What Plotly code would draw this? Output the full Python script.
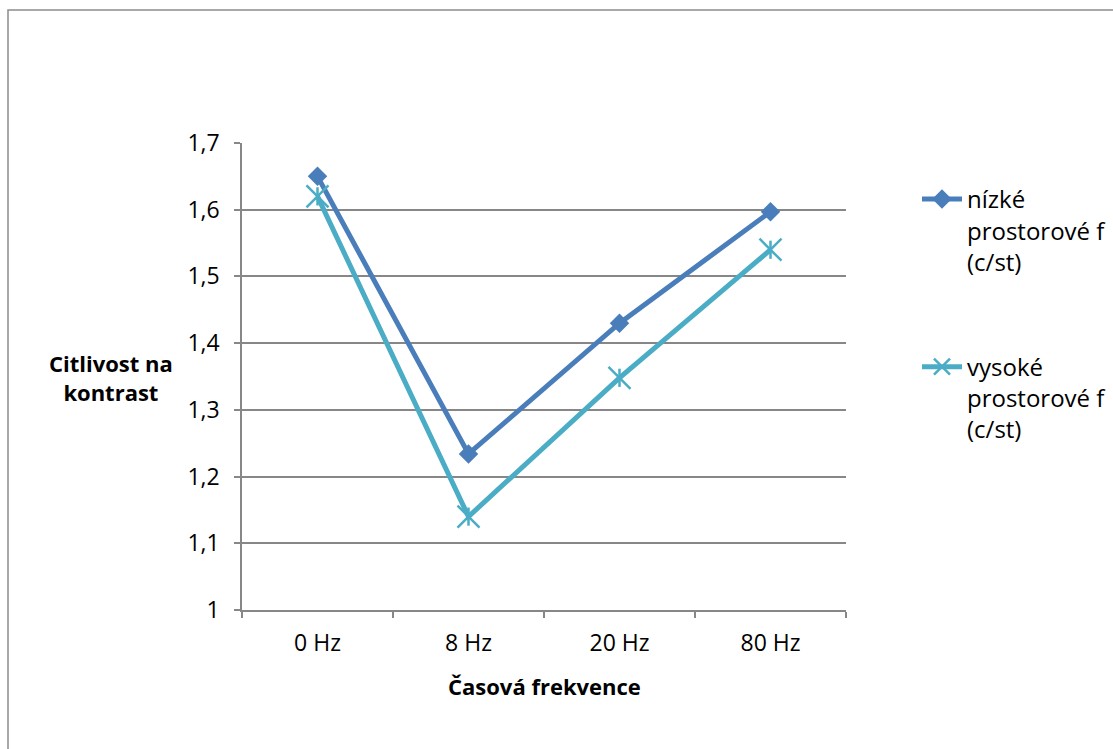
import plotly.graph_objects as go

# Data
categories = ["0 Hz", "8 Hz", "20 Hz", "80 Hz"]
nizke = [1.65, 1.234, 1.43, 1.597]
vysoke = [1.62, 1.14, 1.348, 1.54]
y_ticks = [1.0, 1.1, 1.2, 1.3, 1.4, 1.5, 1.6, 1.7]
y_ticktext = ["1", "1,1", "1,2", "1,3", "1,4", "1,5", "1,6", "1,7"]

W, H = 1113, 749
L, R, T, B = 242, 267, 143, 139
PW, PH = W - L - R, H - T - B

def px_x(px):
    return (px - L) / PW

def px_y(py):
    return (H - B - py) / PH

FONT = "Open Sans"
GRID = "#878787"
C1 = "#4a7ebb"
C2 = "#4bacc6"

fig = go.Figure()

fig.add_trace(go.Scatter(
    x=categories, y=nizke, mode="lines+markers",
    name="nízké<br>prostorové f<br>(c/st)",
    line=dict(color=C1, width=5),
    marker=dict(symbol="diamond", size=15, color=C1),
    legendgroup="a",
))
fig.add_trace(go.Scatter(
    x=categories, y=vysoke, mode="lines+markers",
    name="vysoké<br>prostorové f<br>(c/st)",
    line=dict(color=C2, width=5),
    marker=dict(symbol="x-thin-open", size=22, color=C2,
                line=dict(color=C2, width=2.5)),
    legendgroup="b",
))
# vertical stroke of the star marker
fig.add_trace(go.Scatter(
    x=categories, y=vysoke, mode="markers", showlegend=False,
    marker=dict(symbol="line-ns-open", size=13, color=C2,
                line=dict(color=C2, width=2.5)),
    hoverinfo="skip",
))

fig.update_layout(
    width=W, height=H,
    margin=dict(l=L, r=R, t=T, b=B, autoexpand=False),
    paper_bgcolor="white", plot_bgcolor="white",
    font=dict(family=FONT, size=23, color="#000000"),
    showlegend=True,
    legend=dict(
        x=px_x(917), y=px_y(177), xanchor="left", yanchor="top",
        font=dict(family=FONT, size=24, color="#000000"),
        valign="top", tracegroupgap=71, itemwidth=40,
        bgcolor="rgba(0,0,0,0)",
    ),
    xaxis=dict(
        type="category", range=[-0.5, 3.5],
        showgrid=False, showline=True, linecolor=GRID, linewidth=1.5,
        ticks="outside", tickson="boundaries", ticklen=6, tickcolor=GRID,
        tickwidth=1.5, tickfont=dict(size=23), ticklabelstandoff=12,
        automargin=False,
    ),
    yaxis=dict(
        range=[1.0, 1.7], tickvals=y_ticks, ticktext=y_ticktext,
        showgrid=True, gridcolor=GRID, gridwidth=1.5,
        showline=True, linecolor=GRID, linewidth=1.5,
        ticks="outside", ticklen=6, tickcolor=GRID, tickwidth=1.5,
        tickfont=dict(size=23), ticklabelstandoff=10,
        zeroline=False, automargin=False,
    ),
    shapes=[
        dict(type="rect", xref="paper", yref="paper",
             x0=px_x(8), x1=px_x(1125), y0=px_y(760), y1=px_y(10),
             line=dict(color="#8c8c8c", width=1.5), fillcolor="rgba(0,0,0,0)",
             layer="below"),
    ],
    annotations=[
        dict(text="<b>Citlivost na<br>kontrast</b>", xref="paper", yref="paper",
             x=px_x(111), y=px_y(377), xanchor="center", yanchor="middle",
             showarrow=False, align="center", font=dict(size=22)),
        dict(text="<b>Časová frekvence</b>", xref="paper", yref="paper",
             x=px_x(544), y=px_y(686), xanchor="center", yanchor="middle",
             showarrow=False, font=dict(size=22)),
    ],
)

fig.write_html("out.html")
